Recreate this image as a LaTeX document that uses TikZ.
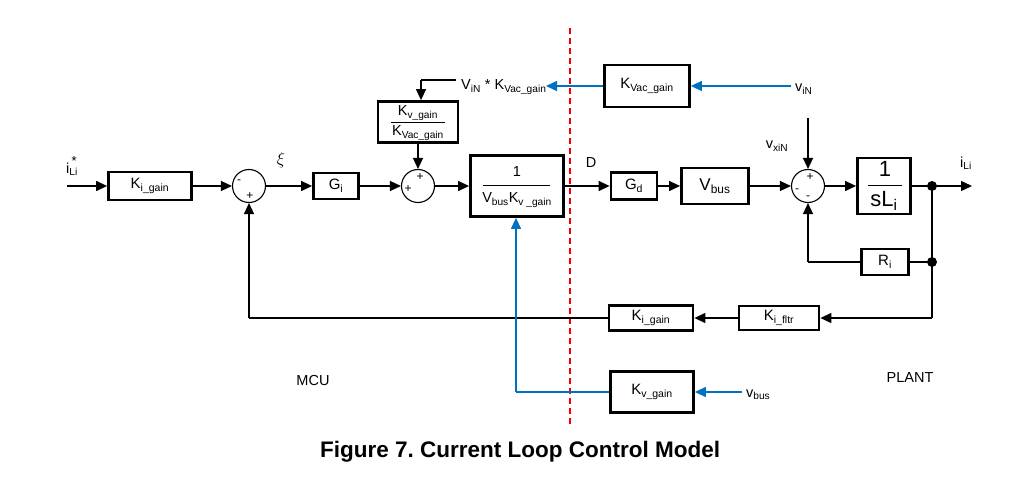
\documentclass[tikz,border=0pt]{standalone}
\usepackage{fontspec}
\setmainfont{Liberation Sans}
\usetikzlibrary{arrows.meta}
\definecolor{lblue}{RGB}{0,112,192}
\definecolor{lred}{RGB}{240,0,0}
\frenchspacing
\tikzset{
  blk/.style={draw, line width=2.8pt, inner sep=0pt, font=\fontsize{15}{17}\selectfont},
  sumc/.style={draw, circle, line width=1.1pt, minimum size=33pt, inner sep=0pt},
  conn/.style={line width=1.3pt, -{Triangle[length=11pt,width=10pt]}},
  wire/.style={line width=1.3pt},
  bconn/.style={line width=1.3pt, lblue, -{Triangle[length=11pt,width=10pt]}},
  bwire/.style={line width=1.3pt, lblue},
  lbl/.style={font=\fontsize{14.5}{16}\selectfont, inner sep=0pt},
  sgn/.style={font=\fontsize{12}{12}\selectfont, inner sep=0pt},
  dot/.style={circle, fill, minimum size=10pt, inner sep=0pt},
}
\begin{document}
\begin{tikzpicture}[x=1pt,y=-1pt]
\useasboundingbox (0,0) rectangle (1023,481);
% red dashed divider
\draw[lred, line width=1.5pt, dash pattern=on 6pt off 4pt] (570,28) -- (570,425);
% blocks
\node[blk, minimum width=83pt, minimum height=28pt] (kig) at (150,186) {K\textsubscript{i\_gain}};
\node[sumc] (s1) at (249,186) {};
\node[sgn] at (239,182) {-};
\node[sgn] at (250,196) {+};
\node[blk, minimum width=45pt, minimum height=26pt] (gi) at (336,186) {G\textsubscript{i}};
\node[sumc] (s2) at (418,186) {};
\node[sgn] at (420,177) {+};
\node[sgn] at (408,189) {+};
\node[blk, minimum width=80pt, minimum height=41pt] (kvr) at (418,122) {};
\node[lbl] at (418,113) {K\textsubscript{v\_gain}};
\draw[line width=1pt] (391,123) -- (445,123);
\node[lbl] at (418,133) {K\textsubscript{Vac\_gain}};
\node[blk, minimum width=93pt, minimum height=61pt] (inv) at (517,186) {};
\node[lbl] at (517,172) {1};
\draw[line width=1pt] (483,186) -- (550,186);
\node[lbl] at (517,200) {V\textsubscript{bus}K\textsubscript{v \_gain}};
\node[blk, minimum width=46pt, minimum height=27pt] (gd) at (634,186) {G\textsubscript{d}};
\node[blk, minimum width=67pt, minimum height=36pt, font=\fontsize{17}{19}\selectfont] (vb) at (715,186) {V\textsubscript{bus}};
\node[sumc] (s3) at (808,186) {};
\node[sgn] at (810,177) {+};
\node[sgn] at (797,191) {-};
\node[sgn] at (808,198) {-};
\node[blk, minimum width=53pt, minimum height=56pt] (isl) at (884,186) {};
\node[font=\fontsize{22}{24}\selectfont, inner sep=0pt] at (885,169) {1};
\draw[line width=1pt] (868,186) -- (902,186);
\node[font=\fontsize{22}{24}\selectfont, inner sep=0pt] at (884,201) {sL\textsubscript{i}};
\node[dot] (d1) at (932,186) {};
\node[dot] (d2) at (932,262) {};
\node[blk, minimum width=47pt, minimum height=26pt] (ri) at (885,262) {R\textsubscript{i}};
\node[blk, minimum width=85pt, minimum height=42pt] (kvac) at (647,86) {K\textsubscript{Vac\_gain}};
\node[blk, minimum width=80pt, minimum height=24pt] (kf) at (779,318) {K\textsubscript{i\_fltr}};
\node[blk, minimum width=84pt, minimum height=25pt] (kig2) at (651,318) {K\textsubscript{i\_gain}};
\node[blk, minimum width=83pt, minimum height=41pt] (kvg) at (652,392) {K\textsubscript{v\_gain}};
% labels
\node[lbl] (iin) at (72,166) {i\rlap{\raisebox{1.0ex}{\fontsize{13}{13}\selectfont\,*}}\textsubscript{Li}};
\coordinate (cin) at (67,186);
\node[font=\fontsize{19}{20}\selectfont, inner sep=0pt] at (281,160) {$\xi$};
\node[lbl, anchor=west] (vk) at (461,87) {V\textsubscript{iN} * K\textsubscript{Vac\_gain}};
\coordinate (vkc) at (421,80);
\coordinate (vke) at (456,80);
\coordinate (vktip) at (546,86);
\node[lbl] at (591,163) {D};
\node[lbl, anchor=west] (vin) at (795,89) {v\textsubscript{iN}};
\coordinate (vinsrc) at (791,86);
\coordinate (vdown) at (808,118);
\node[lbl] at (777,146) {v\textsubscript{xiN}};
\coordinate (iout) at (972,186);
\node[lbl] at (966,163) {i\textsubscript{Li}};
\coordinate (rloop) at (808,262);
\coordinate (fb) at (932,318);
\coordinate (fbl) at (249,318);
\coordinate (vbsrc) at (742,392);
\node[lbl, anchor=west] (vbl) at (746,395) {v\textsubscript{bus}};
\coordinate (kvl) at (516,392);
\node[lbl] at (313,381) {MCU};
\node[lbl] at (910,378) {PLANT};
\node[font=\fontsize{22.5}{24}\selectfont\bfseries, inner sep=0pt] at (520,452) {Figure 7. Current Loop Control Model};
% connectors
\draw[conn] (cin) -- (kig.west);
\draw[conn] (kig.east) -- (s1.west);
\draw[conn] (s1.east) -- (gi.west);
\draw[conn] (gi.east) -- (s2.west);
\draw[conn] (s2.east) -- (inv.west);
\draw[conn] (kvr.south) -- (s2.north);
\draw[wire] (vke) -- (vkc);
\draw[conn] (vkc) -- (vkc |- kvr.north);
\draw[conn] (inv.east) -- (gd.west);
\draw[conn] (gd.east) -- (vb.west);
\draw[conn] (vb.east) -- (s3.west);
\draw[conn] (s3.east) -- (isl.west);
\draw[wire] (isl.east) -- (d1.center);
\draw[conn] (d1.center) -- (iout);
\draw[wire] (d1.center) -- (fb);
\draw[wire] (d2.center) -- (ri.east);
\draw[wire] (ri.west) -- (rloop);
\draw[conn] (rloop) -- (s3.south);
\draw[conn] (vdown) -- (s3.north);
\draw[conn] (fb) -- (kf.east);
\draw[conn] (kf.west) -- (kig2.east);
\draw[wire] (kig2.west) -- (fbl);
\draw[conn] (fbl) -- (s1.south);
\draw[bconn] (vinsrc) -- (kvac.east);
\draw[bconn] (kvac.west) -- (vktip);
\draw[bconn] (vbsrc) -- (kvg.east);
\draw[bwire] (kvg.west) -- (kvl);
\draw[bconn] (kvl) -- (kvl |- inv.south);
\end{tikzpicture}
\end{document}
